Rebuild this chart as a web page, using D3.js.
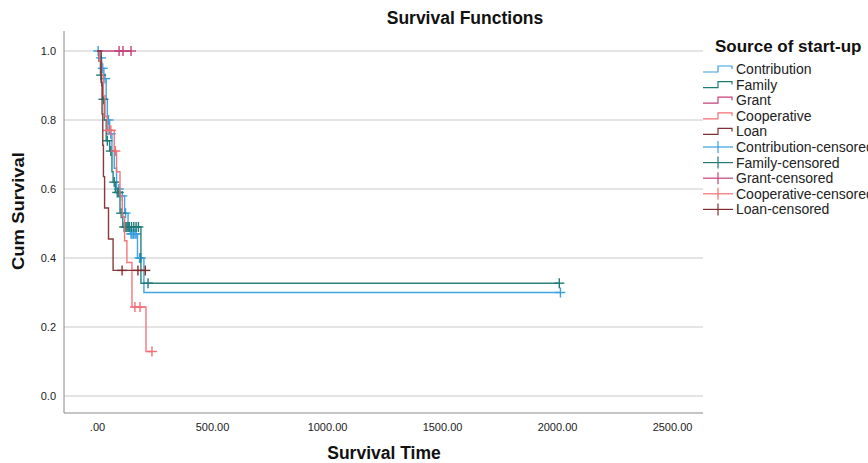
<!DOCTYPE html>
<html><head><meta charset="utf-8">
<script src="https://cdn.jsdelivr.net/npm/d3@7"></script>
<style>body{margin:0;background:#fff}svg{display:block;font-family:"Liberation Sans",Arial,sans-serif}</style>
</head><body><svg id="c" width="868" height="463"></svg>
<script>
// ---- data ----
const groups = ["Contribution","Family","Grant","Cooperative","Loan"];
const colors = ["#3a9fe0","#1f7b78","#c4427a","#f36f75","#7f2f31"];
// events: [time, survival after drop]
const contributionEvents = [[12,0.98],[20,0.95],[30,0.92],[40,0.86],[45,0.80],[55,0.76],[65,0.71],[75,0.66],[85,0.60],[100,0.58],[120,0.53],[135,0.49],[145,0.47],[176,0.40],[204,0.30]];
const contributionCensored = [5,18,25,35,50,60,95,110,124,140,148,152,158,165,170,185,190,2015];
const familyEvents = [[8,0.97],[15,0.93],[20,0.90],[25,0.86],[32,0.80],[40,0.74],[55,0.71],[65,0.65],[70,0.62],[80,0.59],[100,0.53],[112,0.49],[191,0.327]];
const familyCensored = [18,28,45,60,75,88,95,105,118,125,130,135,140,150,160,170,180,222,2010];
const grantEvents = [];
const grantCensored = [96,113,148];
const cooperativeEvents = [[10,0.97],[20,0.93],[28,0.87],[35,0.81],[45,0.77],[75,0.71],[85,0.65],[100,0.58],[110,0.52],[120,0.45],[130,0.387],[152,0.258],[213,0.129]];
const cooperativeCensored = [48,60,80,165,187,239];
const loanEvents = [[18,0.909],[22,0.818],[25,0.727],[28,0.636],[33,0.545],[50,0.455],[70,0.364]];
const loanCensored = [109,178,210];
const yTicks = [0,0.2,0.4,0.6,0.8,1.0];
const xTicks = [0,500,1000,1500,2000,2500];
const legendLabels = ["Contribution","Family","Grant","Cooperative","Loan","Contribution-censored","Family-censored","Grant-censored","Cooperative-censored","Loan-censored"];

const series = [
  {ev:contributionEvents, cen:contributionCensored},
  {ev:familyEvents, cen:familyCensored},
  {ev:grantEvents, cen:grantCensored},
  {ev:cooperativeEvents, cen:cooperativeCensored},
  {ev:loanEvents, cen:loanCensored}
];

const svg = d3.select("#c");
const L=64, R=703, T=31, B=413;
const x = d3.scaleLinear().domain([0,2500]).range([97,672]);
const y = d3.scaleLinear().domain([0,1]).range([396,51]);

// gridlines
svg.append("g").selectAll("line").data(yTicks).join("line")
  .attr("x1",L).attr("x2",R).attr("y1",d=>y(d)).attr("y2",d=>y(d))
  .attr("stroke","#c9c9c9").attr("stroke-width",1);

// axes
const ya = svg.append("g").attr("transform",`translate(${L},0)`)
  .call(d3.axisLeft(y).tickValues(yTicks).tickSize(0).tickPadding(8).tickFormat(d3.format(".1f")));
ya.select(".domain").remove();
ya.selectAll("text").attr("font-size",11).attr("fill","#222").attr("font-family","Liberation Sans, Arial");
const xa = svg.append("g").attr("transform",`translate(0,${B})`)
  .call(d3.axisBottom(x).tickValues(xTicks).tickSize(0).tickPadding(10).tickFormat(d=>d===0?".00":d3.format(".2f")(d)));
xa.select(".domain").remove();
xa.selectAll("text").attr("font-size",11).attr("fill","#222").attr("font-family","Liberation Sans, Arial");
svg.append("line").attr("x1",L).attr("x2",L).attr("y1",T).attr("y2",B).attr("stroke","#8a8a8a");
svg.append("line").attr("x1",L).attr("x2",R).attr("y1",B).attr("y2",B).attr("stroke","#8a8a8a");

// curves
function survAt(ev,t){let s=1;for(const [et,es] of ev){if(et<=t)s=es;}return s;}
const line = d3.line().x(d=>x(d[0])).y(d=>y(d[1])).curve(d3.curveStepAfter);
series.forEach((s,i)=>{
  const end = Math.max(d3.max(s.cen)||0, d3.max(s.ev,d=>d[0])||0);
  const pts = [[0,1],...s.ev,[end,survAt(s.ev,end)]];
  svg.append("path").attr("d",line(pts)).attr("fill","none")
    .attr("stroke",colors[i]).attr("stroke-width",1.4).attr("opacity",0.95);
  const g = svg.append("g").attr("stroke",colors[i]).attr("stroke-width",1.4);
  s.cen.forEach(t=>{
    const cx=x(t), cy=y(survAt(s.ev,t));
    g.append("line").attr("x1",cx-5).attr("x2",cx+5).attr("y1",cy).attr("y2",cy);
    g.append("line").attr("x1",cx).attr("x2",cx).attr("y1",cy-5).attr("y2",cy+5);
  });
});

// titles
svg.append("text").attr("x",465).attr("y",24).attr("text-anchor","middle")
  .attr("font-size",17.5).attr("font-weight","bold").attr("fill","#111").text("Survival Functions");
svg.append("text").attr("x",384).attr("y",459).attr("text-anchor","middle")
  .attr("font-size",17.5).attr("font-weight","bold").attr("fill","#111").text("Survival Time");
svg.append("text").attr("transform","translate(24,211) rotate(-90)").attr("text-anchor","middle")
  .attr("font-size",16).attr("font-weight","bold").attr("fill","#111").attr("textLength",118).attr("lengthAdjust","spacingAndGlyphs")
  .text("Cum Survival");

// legend
const lg = svg.append("g");
lg.append("text").attr("x",715).attr("y",52).attr("font-size",17).attr("font-weight","bold").attr("fill","#111").text("Source of start-up");
legendLabels.forEach((lab,i)=>{
  const yy = 69 + i*15.6;
  const c = colors[i%5];
  if(i<5){
    lg.append("path").attr("d",`M703,${yy+3}H718V${yy-3}H732V${yy}`).attr("fill","none").attr("stroke",c).attr("stroke-width",1.2);
  } else {
    lg.append("line").attr("x1",703).attr("x2",733).attr("y1",yy).attr("y2",yy).attr("stroke",c).attr("stroke-width",1.2);
    lg.append("line").attr("x1",718).attr("x2",718).attr("y1",yy-6).attr("y2",yy+6).attr("stroke",c).attr("stroke-width",1.2);
  }
  lg.append("text").attr("x",736).attr("y",yy+5).attr("font-size",14).attr("fill","#222").text(lab);
});
</script></body></html>
